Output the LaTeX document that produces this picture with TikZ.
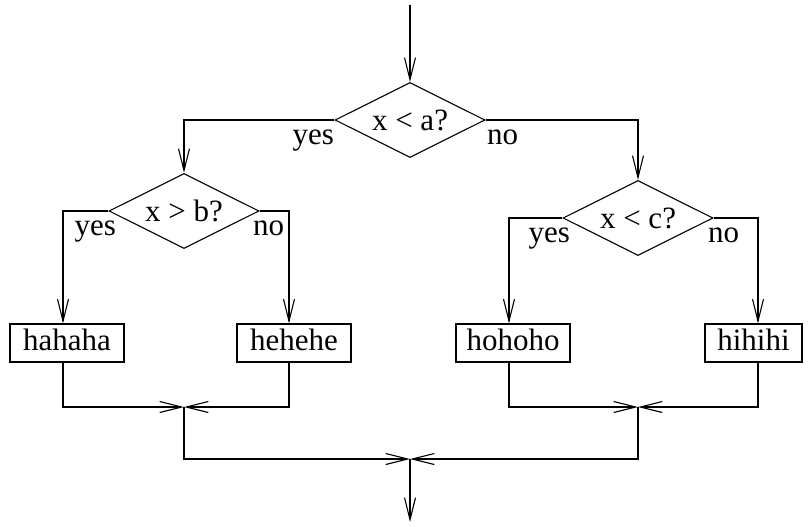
\documentclass[tikz,border=0pt]{standalone}
\usepackage{fontspec}
\setmainfont{Liberation Serif}
\usetikzlibrary{arrows.meta,shapes.geometric}
\begin{document}
\begin{tikzpicture}[x=1pt,y=-1pt,
  line width=1.1pt,
  >={Straight Barb[length=22pt,width=11pt]},
  every node/.style={font=\fontsize{31}{34}\selectfont},
  decision/.style={draw,shape=diamond,aspect=2,inner sep=0pt,minimum width=150pt,minimum height=75pt},
  action/.style={draw,rectangle,inner xsep=0pt,inner ysep=0pt,minimum height=38pt,text height=21pt,text depth=6pt},
  lbl/.style={inner sep=0pt},
  arr/.style={->}]
\useasboundingbox (0,0) rectangle (811,527);

% decisions
\node[decision] (a) at (410,120) {x < a?};
\node[decision] (b) at (184,211) {x > b?};
\node[decision] (c) at (638,218) {x < c?};

% branch labels
\node[lbl,anchor=north east] (ay) at ([shift={(0,9)}]a.west) {yes};
\node[lbl,anchor=north west] (an) at ([shift={(1,9)}]a.east) {no};
\node[lbl,anchor=north east] (by) at ([shift={(8,9)}]b.west) {yes};
\node[lbl,anchor=north west] (bn) at ([shift={(-7,9)}]b.east) {no};
\node[lbl,anchor=north east] (cy) at ([shift={(8,9)}]c.west) {yes};
\node[lbl,anchor=north west] (cn) at ([shift={(-6,9)}]c.east) {no};

% actions
\node[action,minimum width=114pt] (h1) at (67,343) {hahaha};
\node[action,minimum width=114pt] (h2) at (294,343) {hehehe};
\node[action,minimum width=114pt] (h3) at (513,343) {hohoho};
\node[action,minimum width=97pt] (h4) at (753.5,343) {hihihi};

% columns of the vertical connectors
\coordinate (k1) at (63,0);
\coordinate (k2) at (289,0);
\coordinate (k3) at (509,0);
\coordinate (k4) at (758,0);

% merge points, entry and exit
\coordinate (m1) at (184,407);
\coordinate (m2) at (638,407);
\coordinate (m3) at (410,459);
\coordinate (in) at (410,5);
\coordinate (out) at (410,522);

% connectors
\draw[arr] (in) -- (a.north);
\draw[arr] (a.west) -| (b.north);
\draw[arr] (a.east) -| (c.north);
\draw[arr] (b.west) -| (k1 |- h1.north);
\draw[arr] (b.east) -| (k2 |- h2.north);
\draw[arr] (c.west) -| (k3 |- h3.north);
\draw[arr] (c.east) -| (k4 |- h4.north);
\draw[arr] (k1 |- h1.south) |- (m1);
\draw[arr] (k2 |- h2.south) |- (m1);
\draw[arr] (k3 |- h3.south) |- (m2);
\draw[arr] (k4 |- h4.south) |- (m2);
\draw[arr] (m1) |- (m3);
\draw[arr] (m2) |- (m3);
\draw[arr] (m3) -- (out);
\end{tikzpicture}
\end{document}
